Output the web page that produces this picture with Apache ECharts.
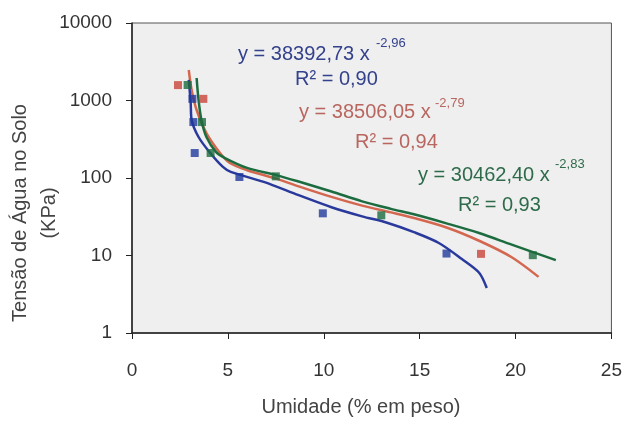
<!DOCTYPE html>
<html>
<head>
<meta charset="utf-8">
<script src="https://cdn.jsdelivr.net/npm/echarts@6/dist/echarts.min.js"></script>
<style>
  html, body { margin: 0; padding: 0; background: #ffffff; }
  #chart { width: 625px; height: 424px; }
</style>
</head>
<body>
<div id="chart"></div>
<script>
// Measured points (moisture % by weight vs. soil water tension, kPa)
const blueX = [3.15, 3.2, 3.27, 5.6, 9.95, 16.4];
const blueY = [1050, 527, 210, 103, 35, 10.6];
const redX = [2.4, 3.72, 18.2];
const redY = [1580, 1050, 10.5];
const greenX = [2.9, 3.65, 4.1, 7.5, 13.0, 20.9];
const greenY = [1585, 527, 210, 105, 33, 10.1];

// Fitted curves
const blueCurveX = [2.96, 3.06, 3.11, 3.47, 4.08, 4.74, 5.15, 6.87, 8.69, 10.4, 12.0, 13.3, 14.7, 16.0, 17.2, 18.1, 18.5];
const blueCurveY = [1840, 929, 560, 338, 210, 139, 120, 89, 60, 42, 32, 26.5, 20, 14.5, 9, 6, 3.8];
const redCurveX = [2.96, 3.11, 3.37, 3.88, 4.59, 5.1, 6.0, 7.52, 8.69, 10.4, 12.0, 13.5, 14.7, 16.4, 18.1, 19.8, 21.2];
const redCurveY = [2475, 1366, 754, 380, 210, 156, 126, 98, 78, 57, 44, 36, 30.5, 23, 15.5, 9.5, 5.3];
const greenCurveX = [3.37, 3.47, 3.62, 3.88, 4.39, 4.85, 6.0, 7.52, 8.69, 10.4, 12.0, 13.5, 14.7, 16.4, 18.1, 19.8, 22.1];
const greenCurveY = [1950, 1015, 560, 338, 216, 181, 135, 109, 90, 67, 50, 40, 34, 26, 19.5, 13.8, 8.7];

// Trend equation labels
const blueEq = 'y = 38392,73 x';
const blueExp = '-2,96';
const blueR2 = 'R² = 0,90';
const redEq = 'y = 38506,05 x';
const redExp = '-2,79';
const redR2 = 'R² = 0,94';
const greenEq = 'y = 30462,40 x';
const greenExp = '-2,83';
const greenR2 = 'R² = 0,93';

const xTitle = 'Umidade (% em peso)';
const yTitle = 'Tensão de Água no Solo\n(KPa)';

const BLUE = '#2a3a9c';
const RED = '#d4674f';
const GREEN = '#1d6c3f';
const FONT = '"Liberation Sans", Arial, sans-serif';

const zip = (xs, ys) => xs.map((x, i) => [x, ys[i]]);

const chart = echarts.init(document.getElementById('chart'), null, { renderer: 'canvas' });

function label(text, x, y, size, color) {
  return {
    type: 'text', x: x, y: y, silent: true, z: 50,
    style: { text: text, font: size + 'px ' + FONT, fill: color, align: 'left', verticalAlign: 'middle' }
  };
}

function curve(xs, ys, color, z) {
  return {
    type: 'line', data: zip(xs, ys), smooth: 0.3, showSymbol: false,
    lineStyle: { color: color, width: 2.5 }, z: z
  };
}

function points(xs, ys, color, z) {
  return { type: 'scatter', data: zip(xs, ys), symbol: 'rect', symbolSize: 8, itemStyle: { color: color }, z: z };
}

chart.setOption({
  animation: false,
  backgroundColor: '#ffffff',
  grid: {
    left: 132, top: 23, right: 11, bottom: 91,
    show: true, backgroundColor: '#efefef', borderColor: '#555', borderWidth: 1
  },
  xAxis: {
    type: 'value', min: 0, max: 25, interval: 5,
    axisLine: { show: true, onZero: false, lineStyle: { color: '#222', width: 1.5 } },
    axisTick: { show: true, inside: false, length: 6, lineStyle: { color: '#222' } },
    axisLabel: { margin: 28, fontSize: 19, fontFamily: FONT, color: '#333' },
    splitLine: { show: false }
  },
  yAxis: {
    type: 'log', logBase: 10, min: 1, max: 10000,
    axisLine: { show: true, lineStyle: { color: '#222', width: 1.5 } },
    axisTick: { show: true, inside: false, length: 6, lineStyle: { color: '#222' } },
    axisLabel: { margin: 20, fontSize: 19, fontFamily: FONT, color: '#333', formatter: v => String(v) },
    splitLine: { show: false }
  },
  series: [
    curve(redCurveX, redCurveY, RED, 2),
    curve(blueCurveX, blueCurveY, BLUE, 3),
    curve(greenCurveX, greenCurveY, GREEN, 4),
    points(redX, redY, '#c8433a', 5),
    points(blueX, blueY, '#1f3a9c', 6),
    points(greenX, greenY, '#1d6c3f', 7)
  ],
  graphic: [
    label(blueEq, 238, 54, 20, '#34418c'),
    label(blueExp, 376, 43, 13, '#34418c'),
    label(blueR2, 295, 79, 20, '#34418c'),
    label(redEq, 299, 112, 20, '#b8665f'),
    label(redExp, 435, 103, 13, '#b8665f'),
    label(redR2, 355, 142, 20, '#b8665f'),
    label(greenEq, 418, 175, 20, '#2e6b4a'),
    label(greenExp, 555, 164, 13, '#2e6b4a'),
    label(greenR2, 458, 205, 20, '#2e6b4a'),
    {
      type: 'text', x: 361, y: 407, silent: true,
      style: { text: xTitle, font: '20px ' + FONT, fill: '#444', align: 'center', verticalAlign: 'middle' }
    },
    {
      type: 'text', x: 35, y: 213, rotation: Math.PI / 2, silent: true,
      style: { text: yTitle, font: '20px ' + FONT, fill: '#444', align: 'center', verticalAlign: 'middle', lineHeight: 29 }
    }
  ]
});
</script>
</body>
</html>
